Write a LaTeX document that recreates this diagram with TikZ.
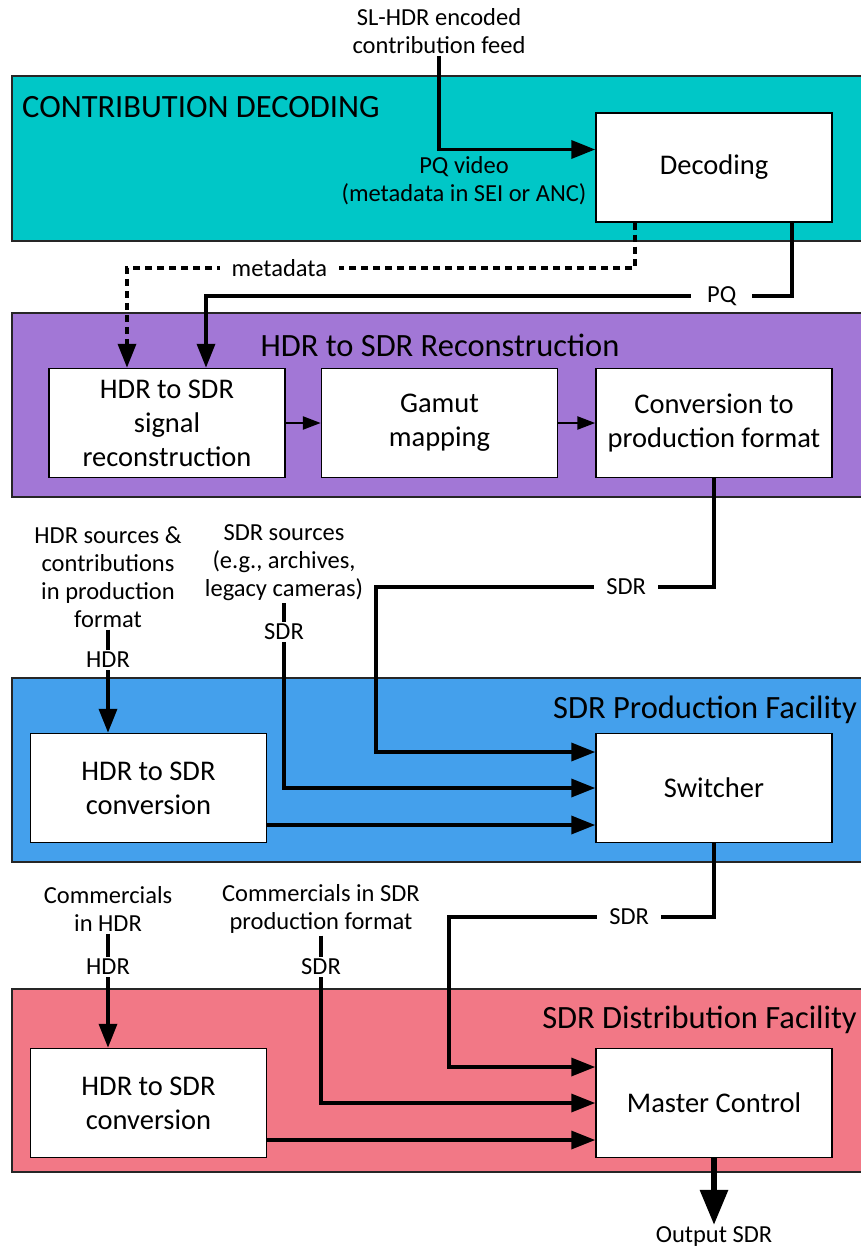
\documentclass[tikz,border=0pt]{standalone}
\usepackage{fontspec}
\setmainfont{Carlito}
\usetikzlibrary{arrows.meta}
\definecolor{contrib}{RGB}{0,199,199}
\definecolor{recon}{RGB}{162,119,214}
\definecolor{prod}{RGB}{68,160,236}
\definecolor{dist}{RGB}{242,120,134}

\tikzset{
  band/.style = {draw=black!85, line width=2pt},
  box/.style = {draw, fill=white, line width=1.5pt, minimum width=236pt, minimum height=109pt,
    align=center, inner sep=0pt, font=\fontsize{28.5}{34}\selectfont},
  title/.style = {inner sep=0pt, font=\fontsize{32.5}{38}\selectfont},
  lbl/.style = {align=center, inner sep=2pt, font=\fontsize{24.5}{28}\selectfont},
  gap/.style = {lbl, fill=white, inner xsep=12pt},
  plain/.style = {line width=3.5pt},
  flow/.style = {line width=3.5pt, -{Triangle[length=24pt,width=18pt]}},
  meta/.style = {line width=3.5pt, dash pattern=on 7pt off 5pt, -{Triangle[length=24pt,width=18pt]}},
  stepflow/.style = {line width=2.5pt, -{Triangle[length=18pt,width=13pt]}},
  bigflow/.style = {line width=6pt, -{Triangle[length=35pt,width=27pt]}}
}

\begin{document}
\begin{tikzpicture}
  [x=1pt, y=-1pt]
    \useasboundingbox (0,0) rectangle (861,1249);
    \clip (0,0) rectangle (861,1249);

    \draw[band, fill=contrib] (12,76) rectangle (880,241);
    \draw[band, fill=recon] (12,313) rectangle (880,497);
    \draw[band, fill=prod] (12,678) rectangle (880,862);
    \draw[band, fill=dist] (12,989) rectangle (880,1172);

    \node[title, anchor=west] (t1) at (22,107) {CONTRIBUTION DECODING};
    \node[title] (t2) at (440,345) {HDR to SDR Reconstruction};
    \node[title, anchor=east] (t3) at (857,710) {SDR Production Facility};
    \node[title, anchor=east] (t4) at (857,1020) {SDR Distribution Facility};

    \node[box] (dec) at (714,167.5) {Decoding};
    \node[box] (sig) at (167,423) {HDR to SDR\\signal\\reconstruction};
    \node[box] (gam) at (439.5,423) {Gamut\\mapping};
    \node[box] (conv) at (714,423) {Conversion to\\production format};
    \node[box] (cv1) at (148.5,788) {HDR to SDR\\conversion};
    \node[box] (sw) at (714,788) {Switcher};
    \node[box] (cv2) at (148.5,1103) {HDR to SDR\\conversion};
    \node[box] (mc) at (714,1103) {Master Control};

    \node[lbl] (feed) at (439,31) {SL-HDR encoded\\contribution feed};
    \node[lbl] (pqv) at (464,181) {PQ video\\(metadata in SEI or ANC)};
    \node[lbl] (hsrc) at (108,577) {HDR sources \&\\contributions\\in production\\format};
    \node[lbl] (hl1) at (108,660) {HDR};
    \node[lbl] (ssrc) at (284,563) {SDR sources\\(e.g., archives,\\legacy cameras)};
    \node[lbl] (sl1) at (284,632) {SDR};
    \node[lbl] (chdr) at (108,909) {Commercials\\in HDR};
    \node[lbl] (hl2) at (108,967) {HDR};
    \node[lbl] (csdr) at (321,909) {Commercials in SDR\\production format};
    \node[lbl] (sl2) at (321,967) {SDR};
    \node[lbl] (out) at (714,1237) {Output SDR};

    \draw[flow] (feed.south) |- ([yshift=18pt]dec.west);
    \draw[meta] ([xshift=-79pt]dec.south) -- ++(0,45) -| node[gap, pos=0.35] {metadata} ([xshift=-40pt]sig.north);
    \draw[flow] ([xshift=78pt]dec.south) -- ++(0,73) -| node[gap, inner xsep=16pt, pos=0.06] {PQ} ([xshift=39pt]sig.north);

    \draw[stepflow] (sig) -- (gam);
    \draw[stepflow] (gam) -- (conv);

    \draw[flow] (conv.south) |- node[gap, pos=0.63] {SDR} (376,587) |- ([yshift=36pt]sw.west);
    \draw[plain] (ssrc) -- (sl1);
    \draw[flow] (sl1) |- (sw.west);
    \draw[plain] (hsrc) -- (hl1);
    \draw[flow] (hl1) -- (hl1 |- cv1.north);
    \draw[flow] ([yshift=-37pt]cv1.east) -- ([yshift=-37pt]sw.west);

    \draw[flow] (sw.south) |- node[gap, pos=0.66] {SDR} (449,917) |- ([yshift=36pt]mc.west);
    \draw[plain] (csdr) -- (sl2);
    \draw[flow] (sl2) |- (mc.west);
    \draw[plain] (chdr) -- (hl2);
    \draw[flow] (hl2) -- (hl2 |- cv2.north);
    \draw[flow] ([yshift=-37pt]cv2.east) -- ([yshift=-37pt]mc.west);

    \draw[bigflow] (mc) -- (out);
\end{tikzpicture}
\end{document}
